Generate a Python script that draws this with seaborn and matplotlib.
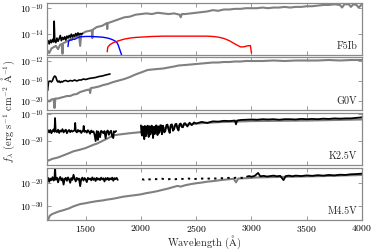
import numpy as np
import pandas as pd
import matplotlib
matplotlib.use("Agg")
import matplotlib.pyplot as plt
from matplotlib.ticker import NullLocator, FixedLocator
import seaborn as sns

# ---------------- data (wavelength [A], log10 f_lambda) ----------------
STARS = ["F5Ib", "G0V", "K2.5V", "M4.5V"]
XTICKS = [1500, 2000, 2500, 3000, 3500, 4000]
YTICKS = [[-10, -14], [-12, -16, -20], [-10, -20], [-20, -30]]
YLIMS = [(-17.2, -9.2), (-21.8, -11.2), (-28.9, -9.6), (-36.4, -13.2)]

F5IB_GREY = [(1150,-16.4),(1170,-16.9),(1190,-16.2),(1210,-16.0),(1230,-15.8),(1250,-16.3),(1270,-15.6),
             (1285,-15.5),(1290,-17.0),(1295,-15.4),(1320,-15.2),(1350,-14.9),(1380,-14.6),(1410,-14.4),
             (1440,-14.1),(1450,-15.8),(1460,-14.0),(1500,-13.6),(1530,-13.5),(1555,-13.4),(1560,-14.6),
             (1565,-13.3),(1600,-12.9),(1650,-12.7),(1690,-12.3),(1695,-13.2),(1700,-12.3),(1750,-12.0),
             (1800,-11.7),(1850,-11.4),(1900,-11.3),(1950,-11.0),(2000,-10.9),(2050,-10.8),(2100,-10.9),
             (2150,-10.7),(2200,-10.8),(2250,-10.9),(2300,-10.8),(2350,-11.0),(2360,-11.4),(2370,-10.9),
             (2400,-10.9),(2450,-10.8),(2500,-10.7),(2550,-10.6),(2600,-10.5),(2650,-10.3),(2700,-10.4),
             (2750,-10.2),(2800,-10.2),(2850,-10.1),(2900,-10.1),(2950,-10.0),(3000,-10.0),(3050,-10.0),
             (3100,-9.9),(3150,-10.0),(3200,-9.9),(3250,-9.9),(3300,-9.8),(3350,-9.9),(3400,-9.8),
             (3450,-9.8),(3500,-9.7),(3550,-9.7),(3600,-9.6),(3650,-9.5),(3700,-9.5),(3750,-9.4),
             (3800,-9.5),(3820,-9.9),(3840,-9.4),(3880,-9.4),(3900,-9.8),(3920,-9.4),(3950,-9.5),
             (3970,-9.9),(4000,-9.4)]
F5IB_BLACK = [(1150,-15.6),(1160,-15.0),(1170,-15.5),(1180,-14.9),(1190,-15.3),(1200,-14.8),(1210,-15.2),
              (1215,-12.0),(1220,-14.9),(1230,-15.3),(1240,-14.6),(1250,-15.1),(1260,-14.7),(1270,-14.2),
              (1280,-15.0),(1290,-14.5),(1300,-14.8),(1310,-14.4),(1320,-14.9),(1330,-14.3),(1340,-14.6),
              (1350,-14.2),(1360,-14.5),(1370,-14.0),(1380,-14.4),(1390,-14.1),(1400,-14.3),(1410,-13.9),
              (1420,-14.2),(1430,-13.8),(1440,-14.1),(1450,-13.9),(1460,-14.0),(1470,-13.9)]
F5IB_BLUE = [(1340,-15.9),(1345,-15.1),(1360,-14.9),(1375,-14.9),(1385,-14.75),(1400,-14.8),(1420,-14.6),
             (1450,-14.4),(1500,-14.35),(1550,-14.35),(1600,-14.4),(1650,-14.45),(1700,-14.6),(1720,-14.7),
             (1750,-14.9),(1780,-15.2),(1795,-15.7),(1805,-16.2),(1815,-16.7),(1825,-17.2)]
F5IB_RED = [(1695,-16.7),(1700,-16.0),(1720,-15.6),(1750,-15.3),(1800,-15.0),(1850,-14.75),(1900,-14.6),
            (1950,-14.5),(2000,-14.45),(2100,-14.35),(2200,-14.3),(2300,-14.3),(2400,-14.3),(2500,-14.3),
            (2600,-14.3),(2650,-14.35),(2700,-14.45),(2750,-14.65),(2800,-15.0),(2850,-15.5),(2900,-15.95),
            (2930,-15.95),(2960,-15.8),(2990,-15.75),(2995,-16.3),(3000,-16.9)]

G0V_GREY = [(1150,-19.8),(1170,-20.1),(1190,-19.7),(1210,-19.6),(1218,-21.4),(1226,-19.5),(1250,-19.5),
            (1280,-19.3),(1300,-19.2),(1330,-19.0),(1360,-19.0),(1390,-18.7),(1420,-18.6),(1450,-18.2),
            (1480,-18.0),(1510,-17.8),(1535,-17.7),(1540,-18.4),(1548,-17.4),(1580,-17.3),(1620,-17.1),
            (1660,-16.8),(1700,-16.6),(1750,-16.2),(1800,-15.9),(1850,-15.6),(1900,-15.2),(1950,-14.7),
            (2000,-14.3),(2060,-13.8),(2100,-13.7),(2150,-13.6),(2200,-13.5),(2250,-13.3),(2300,-13.1),
            (2340,-12.9),(2400,-12.8),(2450,-12.7),(2500,-12.6),(2550,-12.5),(2600,-12.4),(2650,-12.3),
            (2700,-12.3),(2750,-12.2),(2800,-12.2),(2850,-12.1),(2900,-12.1),(2950,-12.0),(3000,-12.0),
            (3100,-12.0),(3200,-11.9),(3300,-12.0),(3400,-11.9),(3500,-11.9),(3600,-11.9),(3700,-11.8),
            (3800,-11.9),(3900,-11.8),(4000,-11.8)]
G0V_BLACK = [(1150,-17.5),(1155,-17.9),(1160,-17.0),(1165,-16.1),(1180,-16.0),(1190,-16.2),(1200,-15.9),
             (1210,-15.3),(1220,-15.0),(1230,-15.2),(1240,-15.9),(1250,-16.2),(1260,-16.0),(1270,-16.3),
             (1280,-16.1),(1290,-16.2),(1300,-16.0),(1320,-15.9),(1340,-16.1),(1360,-15.9),(1380,-16.0),
             (1400,-15.8),(1420,-16.0),(1440,-15.8),(1460,-15.8),(1480,-15.6),(1500,-15.7),(1530,-15.5),
             (1560,-15.4),(1590,-15.3),(1620,-15.1),(1650,-15.0),(1680,-14.8),(1700,-14.7),(1720,-14.6)]

K25V_GREY = [(1150,-26.9),(1160,-27.3),(1200,-26.6),(1250,-26.1),(1300,-25.3),(1350,-24.5),(1390,-23.8),
             (1450,-23.2),(1500,-22.6),(1570,-21.4),(1600,-21.0),(1650,-20.0),(1700,-19.0),(1750,-17.9),
             (1800,-17.6),(1840,-17.4),(1900,-17.1),(1950,-16.9),(1995,-16.7),(2100,-16.0),(2200,-15.3),
             (2300,-14.6),(2400,-14.0),(2540,-13.4),(2700,-13.0),(2850,-12.8),(3000,-12.6),(3250,-12.5),
             (3500,-12.4),(3750,-12.2),(4000,-12.0)]
K25V_BLACK1 = [(1150,-17.2),(1160,-16.0),(1170,-16.8),(1180,-15.9),(1190,-17.1),(1200,-16.2),(1210,-15.7),
               (1218,-16.6),(1223,-11.5),(1228,-16.1),(1240,-16.7),(1250,-15.8),(1260,-17.0),(1270,-16.1),
               (1280,-16.5),(1290,-15.6),(1300,-16.8),(1310,-16.2),(1320,-15.8),(1330,-17.1),(1340,-16.3),
               (1350,-15.9),(1360,-16.7),(1370,-16.1),(1380,-16.5),(1400,-16.0),(1405,-13.3),(1410,-16.3),
               (1420,-16.8),(1430,-15.9),(1440,-16.5),(1450,-16.1),(1460,-17.0),(1470,-16.3),(1478,-16.0),
               (1482,-14.4),(1488,-16.6),(1500,-16.2),(1510,-16.9),(1520,-16.0),(1530,-16.5),(1540,-17.3),
               (1550,-16.1),(1560,-16.7),(1570,-16.4),(1580,-17.6),(1590,-20.0),(1600,-16.3),(1610,-19.6),
               (1615,-16.5),(1630,-18.6),(1640,-16.2),(1650,-16.6),(1660,-17.1),(1670,-16.3),(1680,-19.0),
               (1690,-16.5),(1700,-16.1),(1710,-17.7),(1720,-16.6),(1730,-16.2),(1740,-18.4),(1750,-18.9),
               (1755,-16.4),(1765,-16.7),(1775,-16.3)]
K25V_BLACK2 = [(2000,-14.2),(2005,-17.1),(2010,-18.0),(2015,-14.6),(2020,-14.8),(2025,-16.5),(2030,-19.3),
               (2035,-14.4),(2040,-15.0),(2045,-18.2),(2050,-17.2),(2055,-14.7),(2060,-14.3),(2065,-16.0),
               (2070,-18.5),(2075,-14.5),(2080,-14.9),(2085,-17.6),(2090,-16.6),(2095,-14.3),(2100,-14.4),
               (2105,-16.3),(2110,-18.9),(2115,-14.8),(2120,-14.7),(2125,-17.4),(2130,-16.9),(2135,-14.3),
               (2140,-14.2),(2145,-15.9),(2150,-17.8),(2155,-14.6),(2160,-14.6),(2165,-17.0),(2170,-16.2),
               (2175,-14.2),(2180,-14.1),(2185,-15.6),(2190,-17.5),(2195,-14.4),(2200,-14.3),(2210,-16.8),
               (2220,-16.4),(2230,-14.1),(2240,-13.9),(2250,-15.8),(2260,-17.0),(2270,-14.0),(2280,-13.8),
               (2290,-16.2),(2300,-15.6),(2310,-13.8),(2320,-13.6),(2330,-15.4),(2340,-16.1),(2350,-13.7),
               (2360,-13.5),(2370,-14.8),(2380,-14.9),(2390,-13.5),(2400,-13.4),(2420,-14.6),(2440,-13.2),
               (2460,-14.1),(2480,-13.1),(2500,-13.5),(2550,-12.9),(2600,-13.3),(2650,-12.7),(2700,-12.8),
               (2750,-12.5),(2800,-12.6),(2850,-12.4),(2860,-13.8),(2870,-12.4),(2900,-12.2),(2950,-12.1),
               (3000,-12.0),(3050,-12.1),(3100,-11.9),(3150,-12.0),(3200,-11.9),(3250,-12.1),(3300,-11.9),
               (3350,-11.9),(3400,-12.0),(3450,-11.8),(3500,-11.9),(3550,-11.8),(3600,-11.9),(3650,-11.7),
               (3700,-11.8),(3750,-11.6),(3800,-11.7),(3850,-11.6),(3900,-11.6),(3950,-11.4),(4000,-11.2)]

M45V_GREY = [(1150,-35.7),(1160,-36.3),(1175,-34.5),(1195,-33.8),(1250,-32.7),(1300,-32.0),(1350,-31.2),
             (1390,-30.3),(1450,-29.3),(1500,-28.9),(1540,-28.5),(1600,-28.0),(1650,-27.7),(1695,-27.3),
             (1750,-26.9),(1800,-26.4),(1840,-26.0),(1900,-25.6),(1950,-25.3),(1995,-25.0),(2050,-24.4),
             (2100,-24.0),(2150,-23.5),(2200,-22.9),(2250,-22.3),(2300,-21.6),(2330,-21.2),(2360,-21.5),
             (2400,-20.9),(2450,-20.4),(2500,-20.0),(2550,-19.7),(2600,-19.3),(2660,-19.0),(2720,-18.6),
             (2780,-18.3),(2840,-18.0),(2860,-19.6),(2880,-17.9),(2920,-17.8),(2970,-17.7),(3050,-17.4),
             (3150,-17.3),(3250,-17.2),(3350,-17.1),(3450,-17.0),(3550,-16.9),(3650,-16.8),(3750,-16.7),
             (3850,-16.5),(3950,-16.4),(4000,-16.3)]
M45V_BLACK1 = [(1150,-18.9),(1160,-17.6),(1170,-19.4),(1180,-17.9),(1190,-18.6),(1200,-17.3),(1210,-18.8),
               (1218,-17.8),(1223,-12.7),(1228,-18.4),(1240,-17.5),(1250,-19.6),(1260,-18.0),(1270,-17.2),
               (1280,-18.7),(1290,-17.8),(1300,-20.6),(1310,-18.1),(1320,-17.6),(1330,-18.9),(1340,-17.4),
               (1350,-18.3),(1360,-19.8),(1370,-17.7),(1380,-18.5),(1390,-16.2),(1400,-18.0),(1410,-19.2),
               (1420,-17.6),(1430,-18.4),(1440,-17.9),(1450,-21.3),(1460,-18.1),(1470,-17.5),(1480,-18.8),
               (1490,-17.7),(1500,-18.3),(1510,-19.5),(1520,-17.6),(1530,-18.2),(1540,-17.9),(1550,-18.7),
               (1560,-17.4),(1570,-18.5),(1580,-17.8),(1590,-19.0),(1600,-17.6),(1610,-18.4),(1620,-17.9),
               (1630,-18.6),(1640,-17.5),(1650,-18.3),(1660,-17.8),(1670,-19.2),(1680,-17.7),(1690,-18.4),
               (1700,-17.6),(1710,-18.6),(1720,-17.8),(1730,-18.3),(1740,-17.5),(1750,-18.9),(1760,-17.7),
               (1770,-18.2),(1780,-17.6),(1790,-18.5)]
M45V_BLACK2 = [(2010,-18.2),(2030,-18.4),(2050,-18.0),(2080,-18.3),(2110,-18.1),(2150,-18.2),(2190,-18.0),
               (2230,-18.3),(2270,-18.1),(2310,-18.2),(2350,-18.0),(2390,-18.1),(2430,-17.9),(2470,-18.2),
               (2510,-18.0),(2550,-17.9),(2590,-18.1),(2630,-17.8),(2670,-17.9),(2710,-17.7),(2750,-17.8),
               (2790,-17.6),(2830,-17.7),(2870,-17.5),(2910,-17.6),(2940,-17.4)]
M45V_BLACK3 = [(2960,-17.0),(2980,-16.8),(3000,-17.1),(3030,-16.7),(3060,-15.4),(3080,-16.9),(3110,-16.7),
               (3140,-17.0),(3170,-16.8),(3200,-16.6),(3230,-16.9),(3260,-16.7),(3290,-18.6),(3310,-16.8),
               (3340,-16.6),(3370,-16.9),(3400,-16.6),(3450,-16.8),(3500,-16.5),(3550,-16.7),(3600,-16.4),
               (3650,-16.6),(3700,-16.3),(3750,-16.5),(3800,-16.2),(3850,-16.3),(3900,-16.0),(3950,-15.9),
               (4000,-15.7)]

PANELS = [
    [(F5IB_GREY, "grey", 1.5, "-"), (F5IB_BLACK, "black", 1.2, "-"),
     (F5IB_BLUE, "blue", 1.0, "-"), (F5IB_RED, "red", 1.0, "-")],
    [(G0V_GREY, "grey", 1.5, "-"), (G0V_BLACK, "black", 1.2, "-")],
    [(K25V_GREY, "grey", 1.5, "-"), (K25V_BLACK1, "black", 1.3, "-"), (K25V_BLACK2, "black", 1.3, "-")],
    [(M45V_GREY, "grey", 1.5, "-"), (M45V_BLACK1, "black", 1.3, "-"),
     (M45V_BLACK2, "black", 1.4, (0, (1.2, 2.2))), (M45V_BLACK3, "black", 1.3, "-")],
]

# ---------------- style ----------------
sns.set_style("ticks")
plt.rcParams.update({
    "font.family": "serif",
    "font.serif": ["cmr10", "DejaVu Serif"],
    "mathtext.fontset": "cm",
    "axes.formatter.use_mathtext": True,
    "axes.unicode_minus": False,
})

W, H = 374, 250
fig = plt.figure(figsize=(W / 100, H / 100), dpi=100)
left_px, right_px = 47, 362
bounds = [(3, 55), (57, 110), (113, 165), (168, 220)]
EDGE = "#8a8a8a"

for i, (top, bot) in enumerate(bounds):
    ax = fig.add_axes([left_px / W, 1 - bot / H, (right_px - left_px) / W, (bot - top) / H])
    ax.set_yscale("log")
    for pairs, col, lw, ls in PANELS[i]:
        wl, lg = zip(*pairs)
        df = pd.DataFrame({"wl": wl, "f": 10.0 ** np.array(lg)})
        sns.lineplot(data=df, x="wl", y="f", ax=ax, color=col, lw=lw, linestyle=ls,
                     sort=False, estimator=None)
    ax.set_xlim(1150, 4000)
    ax.set_ylim(10.0 ** YLIMS[i][0], 10.0 ** YLIMS[i][1])
    ax.set_xlabel("")
    ax.set_ylabel("")
    ax.xaxis.set_major_locator(FixedLocator(XTICKS))
    ax.yaxis.set_major_locator(FixedLocator([10.0 ** e for e in YTICKS[i]]))
    ax.yaxis.set_minor_locator(NullLocator())
    ax.xaxis.set_minor_locator(NullLocator())
    ax.tick_params(direction="in", which="both", top=True, right=True, length=3, width=0.6,
                   colors=EDGE, labelcolor="black", labelsize=7, pad=2)
    for s in ax.spines.values():
        s.set_color(EDGE)
        s.set_linewidth(0.9)
    if i < 3:
        ax.tick_params(labelbottom=False)
    ax.text(0.985, 0.07, STARS[i], transform=ax.transAxes, ha="right", va="bottom", fontsize=7.3)

fig.text(0.022, 1 - 111.5 / H, r"$f_\lambda$ (erg s$^{-1}$ cm$^{-2}$ $\mathrm{\AA}^{-1}$)",
         rotation=90, ha="center", va="center", fontsize=7.5)
fig.text((left_px + right_px) / 2 / W, 1 - 242 / H, r"Wavelength ($\mathrm{\AA}$)",
         ha="center", va="center", fontsize=7.5)

fig.savefig("out.png", dpi=100)
